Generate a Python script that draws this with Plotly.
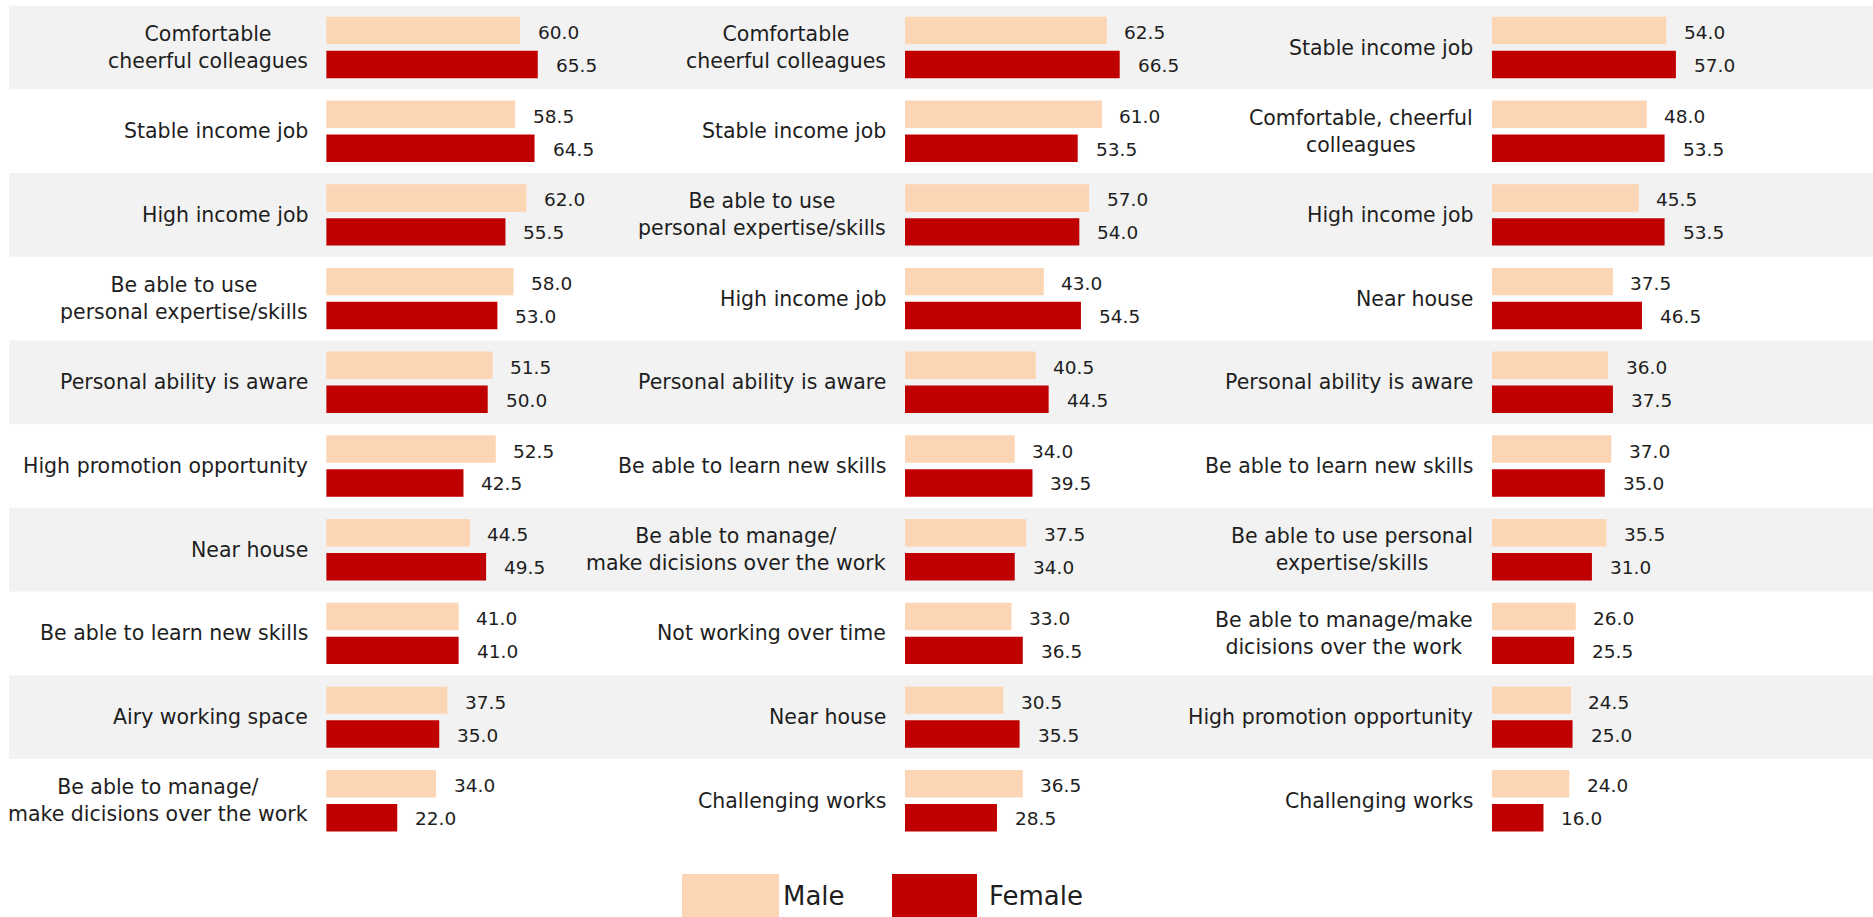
import plotly.graph_objects as go

# ---------------- data ----------------
cats1 = ["Comfortable<br>cheerful colleagues", "Stable income job", "High income job",
         "Be able to use<br>personal expertise/skills", "Personal ability is aware",
         "High promotion opportunity", "Near house", "Be able to learn new skills",
         "Airy working space", "Be able to manage/<br>make dicisions over the work"]
male1 = [60.0, 58.5, 62.0, 58.0, 51.5, 52.5, 44.5, 41.0, 37.5, 34.0]
female1 = [65.5, 64.5, 55.5, 53.0, 50.0, 42.5, 49.5, 41.0, 35.0, 22.0]

cats2 = ["Comfortable<br>cheerful colleagues", "Stable income job",
         "Be able to use<br>personal expertise/skills", "High income job",
         "Personal ability is aware", "Be able to learn new skills",
         "Be able to manage/<br>make dicisions over the work", "Not working over time",
         "Near house", "Challenging works"]
male2 = [62.5, 61.0, 57.0, 43.0, 40.5, 34.0, 37.5, 33.0, 30.5, 36.5]
female2 = [66.5, 53.5, 54.0, 54.5, 44.5, 39.5, 34.0, 36.5, 35.5, 28.5]

cats3 = ["Stable income job", "Comfortable, cheerful<br>colleagues", "High income job",
         "Near house", "Personal ability is aware", "Be able to learn new skills",
         "Be able to use personal<br>expertise/skills",
         "Be able to manage/make<br>dicisions over the work",
         "High promotion opportunity", "Challenging works"]
male3 = [54.0, 48.0, 45.5, 37.5, 36.0, 37.0, 35.5, 26.0, 24.5, 24.0]
female3 = [57.0, 53.5, 53.5, 46.5, 37.5, 35.0, 31.0, 25.5, 25.0, 16.0]

series_names = ["Male", "Female"]
# ---------------------------------------

MALE_C = "#FCD5B5"
FEMALE_C = "#C00000"
FONT = "DejaVu Sans"
TXT = "#1E1E1E"
W, H = 1873, 917

BAR_W = 0.328
OFF_M = -0.367
OFF_F = 0.039
PX_PER_UNIT = 3.23
ROW_PX = 83.7
ROW0_PX = 47.5

def dom(start_px):
    return [start_px / W, (start_px + 100 * PX_PER_UNIT) / W]

cols = [(cats1, male1, female1, "x", dom(326.2)),
        (cats2, male2, female2, "x2", dom(904.9)),
        (cats3, male3, female3, "x3", dom(1491.8))]

fig = go.Figure()
annotations = []
shapes = []

# alternating row bands
for i in range(0, 10, 2):
    shapes.append(dict(type="rect", xref="paper", yref="y", x0=9 / W, x1=1,
                       y0=i - 0.5, y1=i + 0.5, fillcolor="#F2F2F2",
                       line=dict(width=0), layer="below"))

for cats, m, f, xa, d in cols:
    rows = list(range(len(cats)))
    fig.add_trace(go.Bar(x=m, y=rows, orientation="h", name=series_names[0],
                         marker=dict(color=MALE_C, line=dict(width=0)),
                         width=BAR_W, offset=OFF_M, xaxis=xa, yaxis="y",
                         showlegend=False, hoverinfo="x"))
    fig.add_trace(go.Bar(x=f, y=rows, orientation="h", name=series_names[1],
                         marker=dict(color=FEMALE_C, line=dict(width=0)),
                         width=BAR_W, offset=OFF_F, xaxis=xa, yaxis="y",
                         showlegend=False, hoverinfo="x"))
    for r, lab in enumerate(cats):
        annotations.append(dict(text=lab, xref=xa + " domain", yref="y", x=0, y=r,
                                xanchor="right", yanchor="middle", align="center",
                                xshift=-16.5, showarrow=False,
                                font=dict(family=FONT, size=20.5, color=TXT)))
    for r, v in enumerate(m):
        annotations.append(dict(text=f"{v:.1f}", xref=xa, yref="y", x=v,
                                y=r + OFF_M + BAR_W / 2, xanchor="left",
                                yanchor="middle", xshift=15.5, yshift=-2,
                                showarrow=False,
                                font=dict(family=FONT, size=18.5, color=TXT)))
    for r, v in enumerate(f):
        annotations.append(dict(text=f"{v:.1f}", xref=xa, yref="y", x=v,
                                y=r + OFF_F + BAR_W / 2, xanchor="left",
                                yanchor="middle", xshift=16, yshift=-1,
                                showarrow=False,
                                font=dict(family=FONT, size=18.5, color=TXT)))

# custom legend (large swatches)
shapes.append(dict(type="rect", xref="paper", yref="paper", x0=682 / W, x1=779 / W,
                   y0=0, y1=1 - 874 / H, fillcolor=MALE_C, line=dict(width=0)))
shapes.append(dict(type="rect", xref="paper", yref="paper", x0=892 / W, x1=977 / W,
                   y0=0, y1=1 - 874 / H, fillcolor=FEMALE_C, line=dict(width=0)))
annotations.append(dict(text=series_names[0], xref="paper", yref="paper", x=781 / W,
                        y=1 - 896 / H, xanchor="left", yanchor="middle",
                        showarrow=False, font=dict(family=FONT, size=26, color=TXT)))
annotations.append(dict(text=series_names[1], xref="paper", yref="paper", x=987 / W,
                        y=1 - 896 / H, xanchor="left", yanchor="middle",
                        showarrow=False, font=dict(family=FONT, size=26, color=TXT)))

ax_common = dict(range=[0, 100], showgrid=False, zeroline=False, showticklabels=False,
                 showline=False, ticks="", fixedrange=True)

fig.update_layout(
    width=W, height=H,
    margin=dict(l=0, r=0, t=0, b=0),
    paper_bgcolor="white", plot_bgcolor="rgba(0,0,0,0)",
    barmode="overlay",
    xaxis=dict(domain=cols[0][4], anchor="y", **ax_common),
    xaxis2=dict(domain=cols[1][4], anchor="y", **ax_common),
    xaxis3=dict(domain=cols[2][4], anchor="y", **ax_common),
    yaxis=dict(range=[(H - ROW0_PX) / ROW_PX, -ROW0_PX / ROW_PX], domain=[0, 1],
               showgrid=False, zeroline=False, showticklabels=False,
               showline=False, ticks="", fixedrange=True),
    shapes=shapes, annotations=annotations,
    font=dict(family=FONT, color=TXT),
    showlegend=False,
)

fig.write_html("out.html", config={"displayModeBar": False},
               post_script="document.body.style.margin='0';document.body.style.overflow='hidden';")
